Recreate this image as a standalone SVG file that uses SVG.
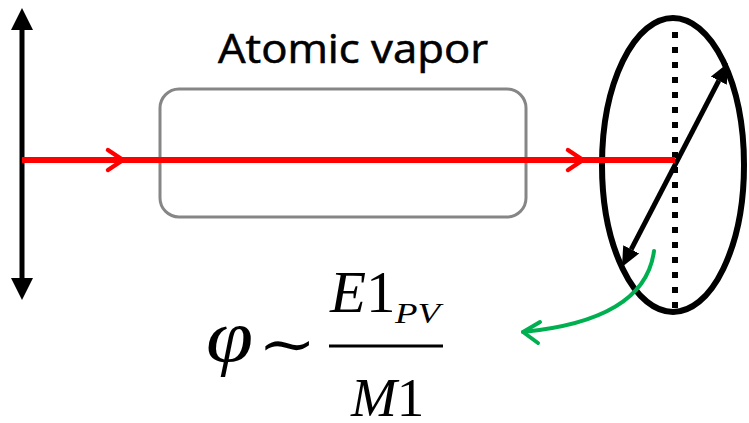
<svg xmlns="http://www.w3.org/2000/svg" width="749" height="423" viewBox="0 0 749 423">
  <style>
    .lbl { font-family: "Open Sans", "Noto Sans", sans-serif; fill: #000; }
    .math { font-family: "Liberation Serif", "DejaVu Serif", serif; fill: #000; }
    .it { font-style: italic; }
    .beam { stroke: #ff0000; stroke-width: 6; fill: none; }
    .chev { stroke: #ff0000; stroke-width: 4.5; fill: none; stroke-linecap: round; stroke-linejoin: round; }
    .pol { stroke: #000; stroke-width: 5; fill: none; }
  </style>
  <defs>
    <marker id="headL" viewBox="0 -11 22 22" refX="0" refY="0" markerWidth="22" markerHeight="22" markerUnits="userSpaceOnUse" orient="auto-start-reverse">
      <path d="M0,-11 L22,0 L0,11 Z" fill="#000"/>
    </marker>
    <marker id="headS" viewBox="0 -9 20 18" refX="0" refY="0" markerWidth="20" markerHeight="18" markerUnits="userSpaceOnUse" orient="auto-start-reverse">
      <path d="M0,-9 L20,0 L0,9 Z" fill="#000"/>
    </marker>
  </defs>

  <g id="cell">
    <rect x="160" y="89" width="366" height="128" rx="19" ry="19" fill="none" stroke="#868686" stroke-width="3"/>
    <text class="lbl" x="218" y="63" font-size="40" textLength="270" lengthAdjust="spacingAndGlyphs" stroke="#000" stroke-width="0.6">Atomic vapor</text>
  </g>

  <g id="polarizer-in">
    <line class="pol" x1="22" y1="30" x2="22" y2="278" marker-start="url(#headL)" marker-end="url(#headL)"/>
  </g>

  <g id="polarization-out">
    <ellipse cx="673" cy="165" rx="71" ry="147" fill="none" stroke="#000" stroke-width="6"/>
    <line x1="675" y1="32" x2="675" y2="310" stroke="#000" stroke-width="6" stroke-dasharray="6 9"/>
    <line class="pol" x1="631.2" y1="249.3" x2="718.8" y2="80.7" marker-start="url(#headS)" marker-end="url(#headS)"/>
  </g>

  <g id="connectors">
    <line class="beam" x1="22" y1="160" x2="675" y2="160"/>
    <polyline class="chev" points="108,150 123,160 108,170"/>
    <polyline class="chev" points="568,150 583,160 568,170"/>
    <path d="M654,251 Q645,320 523,332" fill="none" stroke="#00b050" stroke-width="4" stroke-linecap="round"/>
    <polyline points="540,322 523,332 538,343" fill="none" stroke="#00b050" stroke-width="4" stroke-linecap="round" stroke-linejoin="round"/>
  </g>

  <g id="formula">
    <text class="math it" transform="translate(206,361) scale(1.15,1)" x="0" y="0" font-size="74">φ</text>
    <text class="math" transform="translate(258,364) scale(1.2,1)" x="0" y="0" font-size="58">∼</text>
    <text class="math" x="330" y="312" font-size="59"><tspan class="it">E</tspan>1</text>
    <text class="math it" x="395" y="323" font-size="30" textLength="45" lengthAdjust="spacingAndGlyphs">PV</text>
    <line x1="329" y1="346" x2="443" y2="346" stroke="#000" stroke-width="3"/>
    <text class="math" x="351" y="416" font-size="55"><tspan class="it">M</tspan>1</text>
  </g>
</svg>
